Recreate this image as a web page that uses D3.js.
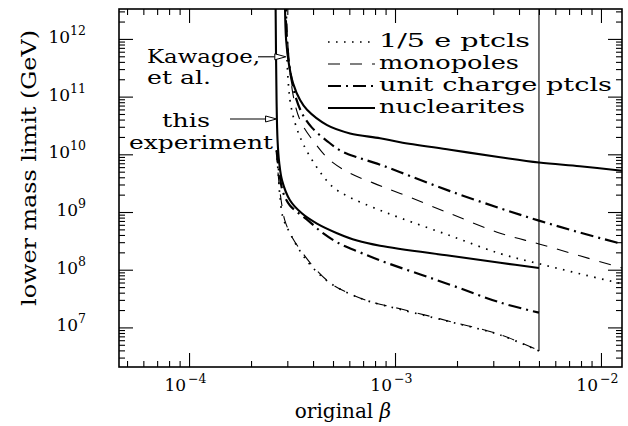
<!DOCTYPE html>
<html><head><meta charset="utf-8">
<script src="https://cdn.jsdelivr.net/npm/d3@7"></script>
<style>
html,body{margin:0;padding:0;background:#fff;}
svg{display:block;}
text{font-family:"DejaVu Serif",serif;fill:#000;}
</style>
</head><body>
<svg id="c" width="628" height="426"></svg>
<script>
// ---------------- data ----------------
const xDomain = [4.57e-5, 1.265e-2];
const yDomain = [2.06e6, 3.3e12];
const xMajorTicks = [1e-4, 1e-3, 1e-2];
const xTickExponents = ["\u22124", "\u22123", "\u22122"];
const yMajorTicks = [1e7, 1e8, 1e9, 1e10, 1e11, 1e12];
const yTickExponents = ["7", "8", "9", "10", "11", "12"];
const seriesNames = ["1/5 e ptcls", "monopoles", "unit charge ptcls", "nuclearites"];
const cutoffBeta = 5e-3;

// Kawagoe et al. (β, lower mass limit GeV)
const kawagoeFifthE = [[2.99e-4,4.3e11],[3.09e-4,8.7e10],[3.27e-4,3.5e10],[3.57e-4,1.55e10],[4.18e-4,5.9e9],[5.00e-4,2.7e9],[6.05e-4,1.79e9],[7.82e-4,1.2e9],[1.06e-3,7.9e8],[1.85e-3,3.9e8],[3.24e-3,1.9e8],[5.0e-3,1.27e8],[7.9e-3,8.5e7],[1.265e-2,5.7e7]];
const kawagoeMonopoles = [[2.97e-4,2.1e12],[3.06e-4,4.3e11],[3.20e-4,1.07e11],[3.46e-4,3.9e10],[4.09e-4,1.55e10],[4.83e-4,7.9e9],[6.05e-4,4.7e9],[7.82e-4,3.2e9],[1.06e-3,2.1e9],[1.85e-3,9.4e8],[3.24e-3,4.3e8],[5.0e-3,2.8e8],[7.9e-3,1.74e8],[1.265e-2,1.07e8]];
const kawagoeUnitCharge = [[2.95e-4,5e12],[2.99e-4,9.6e11],[3.09e-4,2.9e11],[3.27e-4,1.07e11],[3.54e-4,5.1e10],[3.95e-4,2.9e10],[4.68e-4,1.7e10],[5.41e-4,1.17e10],[6.54e-4,8.9e9],[8.19e-4,6.9e9],[1.06e-3,4.9e9],[1.85e-3,2.3e9],[3.24e-3,1.16e9],[5.0e-3,7.1e8],[7.9e-3,4.4e8],[1.265e-2,2.8e8]];
const kawagoeNuclearites = [[2.92e-4,5e12],[2.96e-4,9.6e11],[3.06e-4,3.5e11],[3.20e-4,1.7e11],[3.46e-4,8.7e10],[3.74e-4,5.9e10],[4.68e-4,3.2e10],[6.05e-4,2.3e10],[8.46e-4,1.9e10],[1.06e-3,1.62e10],[1.85e-3,1.2e10],[3.24e-3,8.9e9],[5.0e-3,7.2e9],[7.9e-3,6.2e9],[1.265e-2,5.2e9]];

// this experiment
const thisFifthE = [[2.66e-4,1.17e10],[2.71e-4,4.7e9],[2.76e-4,1.95e9],[2.86e-4,7.9e8],[3.09e-4,4.3e8],[3.46e-4,2.1e8],[4.00e-4,1.07e8],[4.83e-4,5.9e7],[6.05e-4,3.8e7],[7.57e-4,2.8e7],[1.06e-3,2.05e7],[1.85e-3,1.25e7],[3.24e-3,7.4e6],[5.0e-3,3.9e6]];
const thisMonopoles = [[2.66e-4,1.17e10],[2.71e-4,4.4e9],[2.80e-4,1.6e9],[2.92e-4,7.1e8],[3.16e-4,3.7e8],[3.54e-4,2.0e8],[4.09e-4,1.05e8],[4.94e-4,5.6e7],[6.18e-4,3.7e7],[7.73e-4,2.75e7],[1.06e-3,2.1e7],[1.85e-3,1.27e7],[3.24e-3,7.5e6],[5.0e-3,3.95e6]];
const thisUnitCharge = [[2.66e-4,1.17e10],[2.74e-4,4.9e9],[2.86e-4,2.2e9],[3.09e-4,1.3e9],[3.74e-4,7.4e8],[4.47e-4,4.3e8],[5.41e-4,2.8e8],[6.76e-4,2.0e8],[8.46e-4,1.45e8],[1.85e-3,5.5e7],[3.24e-3,2.7e7],[5.0e-3,1.8e7]];
const thisNuclearites = [[2.63e-4,5e12],[2.66e-4,8.7e10],[2.69e-4,1.74e10],[2.74e-4,7.2e9],[2.83e-4,3.5e9],[3.09e-4,1.6e9],[3.54e-4,9.4e8],[4.18e-4,6.3e8],[5.23e-4,4.3e8],[6.54e-4,3.2e8],[8.46e-4,2.6e8],[1.85e-3,1.74e8],[3.24e-3,1.32e8],[5.0e-3,1.07e8]];

// annotation targets (β, M)
const kawagoeArrowTarget = [2.95e-4, 4.9e11];
const thisArrowTarget = [2.66e-4, 4.1e10];

// ---------------- drawing ----------------
const L = 119, R = 622, T = 9, B = 367;
const svg = d3.select("#c");
const x = d3.scaleLog().domain(xDomain).range([L, R]);
const y = d3.scaleLog().domain(yDomain).range([B, T]);

const styles = [
  {dash: "1.6,6.4", width: 1.7},     // 1/5 e
  {dash: "12,10", width: 1.1},       // monopoles
  {dash: "13,5,2,5", width: 2.2},    // unit charge
  {dash: null, width: 2.1}           // nuclearites
];

svg.append("defs").append("clipPath").attr("id","clip")
  .append("rect").attr("x",L).attr("y",T).attr("width",R-L).attr("height",B-T);

// ticks
const isMajor = (v, majors) => majors.some(m => Math.abs(v/m - 1) < 1e-6);
const xMinor = x.ticks().filter(v => !isMajor(v, xMajorTicks));
const yMinor = y.ticks().filter(v => !isMajor(v, yMajorTicks));
const MAJ = 14, MIN = 6;

function axisG(axis, tr) {
  const g = svg.append("g").attr("transform", tr).call(axis);
  g.select(".domain").remove();
  g.selectAll(".tick line").attr("stroke","#000").attr("stroke-width",1.1);
  g.selectAll(".tick text").remove();
  return g;
}
axisG(d3.axisBottom(x).tickValues(xMajorTicks).tickSize(-MAJ).tickFormat(""), `translate(0,${B})`);
axisG(d3.axisBottom(x).tickValues(xMinor).tickSize(-MIN).tickFormat(""), `translate(0,${B})`);
axisG(d3.axisTop(x).tickValues(xMajorTicks).tickSize(-MAJ).tickFormat(""), `translate(0,${T})`);
axisG(d3.axisTop(x).tickValues(xMinor).tickSize(-MIN).tickFormat(""), `translate(0,${T})`);
axisG(d3.axisLeft(y).tickValues(yMajorTicks).tickSize(-MAJ).tickFormat(""), `translate(${L},0)`);
axisG(d3.axisLeft(y).tickValues(yMinor).tickSize(-MIN).tickFormat(""), `translate(${L},0)`);
axisG(d3.axisRight(y).tickValues(yMajorTicks).tickSize(-MAJ).tickFormat(""), `translate(${R},0)`);
axisG(d3.axisRight(y).tickValues(yMinor).tickSize(-MIN).tickFormat(""), `translate(${R},0)`);

// frame
svg.append("rect").attr("x",L).attr("y",T).attr("width",R-L).attr("height",B-T)
  .attr("fill","none").attr("stroke","#000").attr("stroke-width",1.6);

// tick labels
xMajorTicks.forEach((v,i) => {
  svg.append("text").attr("x", x(v)-3).attr("y", 391).attr("text-anchor","end")
    .attr("font-size",17).text("10");
  svg.append("text").attr("x", x(v)-1).attr("y", 383).attr("text-anchor","start")
    .attr("font-size",12.5).text(xTickExponents[i]);
});
yMajorTicks.forEach((v,i) => {
  const t = svg.append("text").attr("x", 86).attr("y", y(v)+4).attr("text-anchor","end")
    .attr("font-size",17);
  t.append("tspan").text("10");
  t.append("tspan").attr("dy",-8).attr("font-size",12.5).text(yTickExponents[i]);
});

// axis titles
svg.append("text").attr("transform","translate(36,168) rotate(-90)").attr("text-anchor","middle")
  .attr("font-size",20).attr("textLength",276).attr("lengthAdjust","spacingAndGlyphs")
  .text("lower mass limit (GeV)");
const xt = svg.append("text").attr("x",343).attr("y",418).attr("text-anchor","middle").attr("font-size",20);
xt.append("tspan").text("original ");
xt.append("tspan").attr("font-style","italic").text("\u03b2");

// curves
const line = d3.line().x(d => x(d[0])).y(d => y(d[1])).curve(d3.curveCatmullRom.alpha(0.5));
const plot = svg.append("g").attr("clip-path","url(#clip)");
const groups = [
  [kawagoeFifthE, kawagoeMonopoles, kawagoeUnitCharge, kawagoeNuclearites],
  [thisFifthE, thisMonopoles, thisUnitCharge, thisNuclearites]
];
groups.forEach(gr => gr.forEach((data, i) => {
  const s = styles[i];
  plot.append("path").datum(data).attr("d", line)
    .attr("fill","none").attr("stroke","#000")
    .attr("stroke-width", s.width)
    .attr("stroke-dasharray", s.dash);
}));

// cutoff of this experiment
const lowestEnd = d3.min([thisFifthE, thisMonopoles, thisUnitCharge, thisNuclearites], d => d[d.length-1][1]);
plot.append("line").attr("x1", x(cutoffBeta)).attr("x2", x(cutoffBeta))
  .attr("y1", y(lowestEnd)).attr("y2", T)
  .attr("stroke","#000").attr("stroke-width",1.1);

// legend
const legX1 = 328, legX2 = 375, legTx = 379;
const legRows = [47, 69, 91, 113];
const legWidths = [151, 140, 233, 146];
seriesNames.forEach((name, i) => {
  const s = styles[i];
  svg.append("line").attr("x1", legX1).attr("x2", legX2)
    .attr("y1", legRows[i]-5).attr("y2", legRows[i]-5)
    .attr("stroke","#000").attr("stroke-width", s.width)
    .attr("stroke-dasharray", s.dash);
  svg.append("text").attr("x", legTx).attr("y", legRows[i]).attr("font-size",19)
    .attr("textLength", legWidths[i]).attr("lengthAdjust","spacingAndGlyphs").text(name);
});

// annotations
function label(txt, tx, ty, w) {
  svg.append("text").attr("x",tx).attr("y",ty).attr("font-size",18)
    .attr("textLength", w).attr("lengthAdjust","spacingAndGlyphs").text(txt);
}
label("Kawagoe,", 147, 63, 113);
label("et al.", 147, 84, 64);
label("this", 162, 127, 48);
label("experiment", 129, 149, 144);

function arrow(target, fromX) {
  const tx = x(target[0]), ty = y(target[1]);
  svg.append("line").attr("x1", fromX).attr("x2", tx - 11).attr("y1", ty).attr("y2", ty)
    .attr("stroke","#000").attr("stroke-width",1.1);
  svg.append("path").attr("d", `M${tx},${ty} L${tx-11},${ty-3} L${tx-11},${ty+3} Z`)
    .attr("fill","#fff").attr("stroke","#000").attr("stroke-width",1);
}
arrow(kawagoeArrowTarget, 258);
arrow(thisArrowTarget, 230);
</script>
</body></html>
